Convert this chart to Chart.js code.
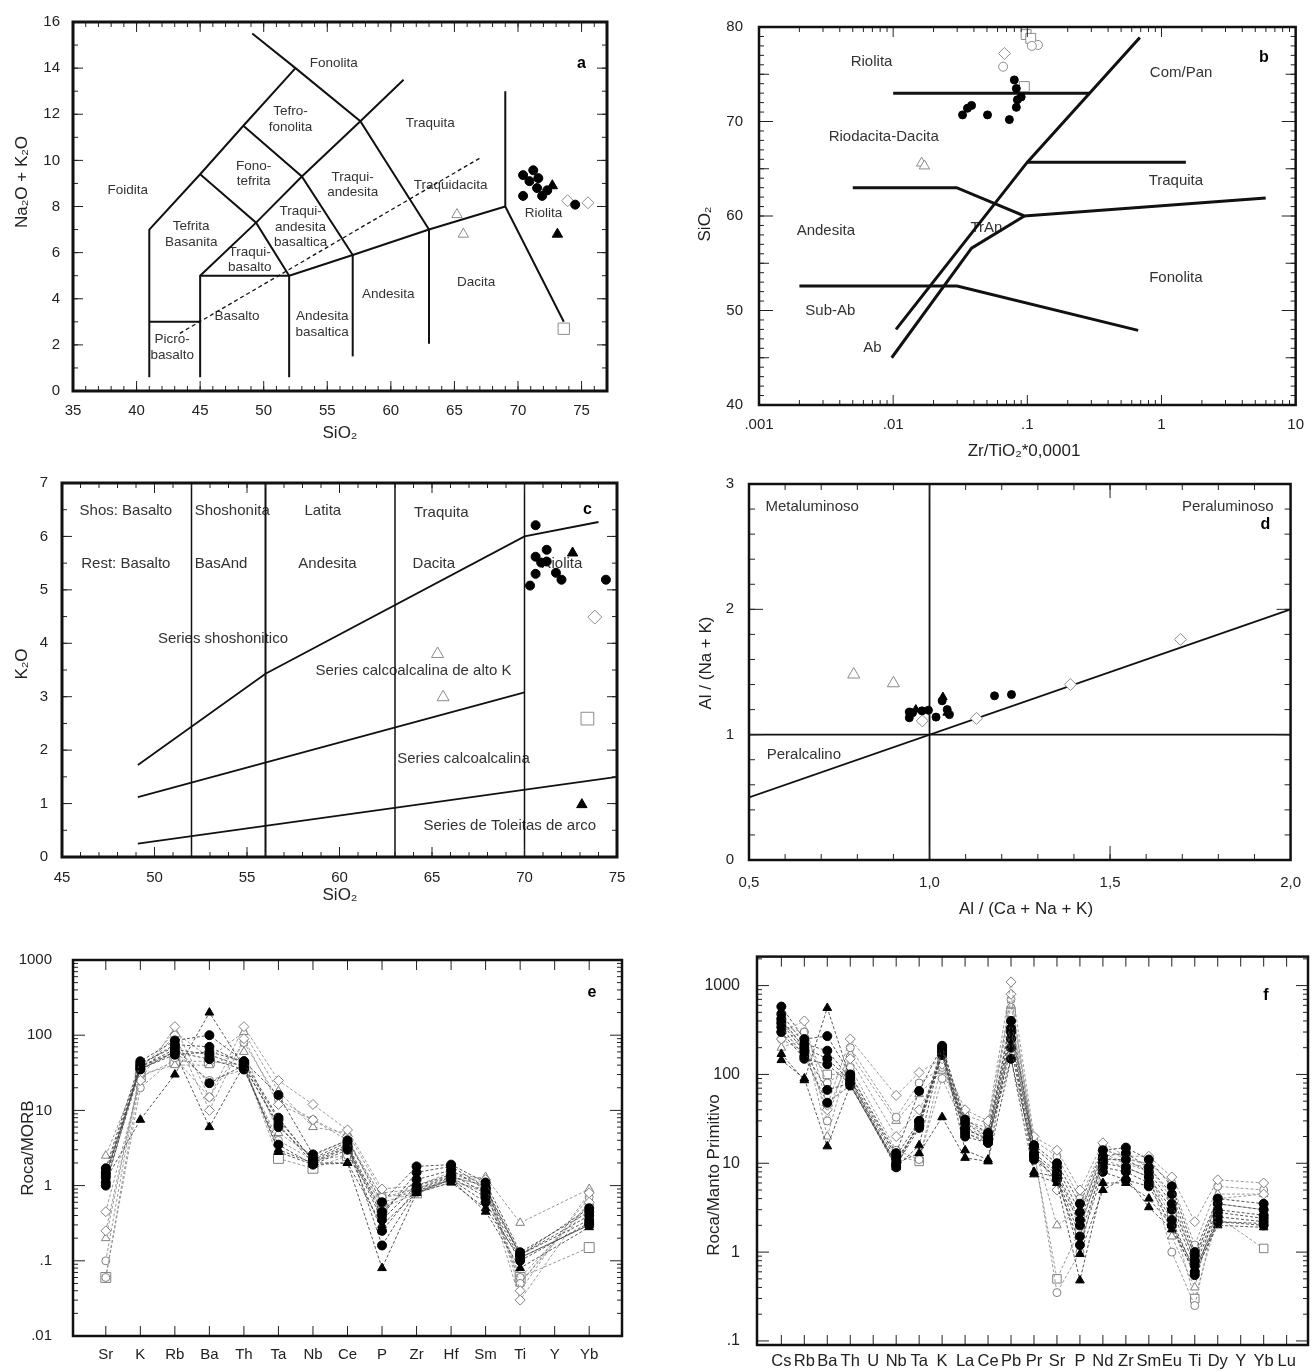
<!DOCTYPE html>
<html>
<head>
<meta charset="utf-8">
<script src="https://cdn.jsdelivr.net/npm/chart.js@4.4.0/dist/chart.umd.min.js"></script>
<style>
  body { margin: 0; background: #fff; width: 1315px; height: 1372px; position: relative; overflow: hidden; }
  .panel { position: absolute; }
</style>
</head>
<body>
<div class="panel" style="left:0;top:0;width:655px;height:445px"><canvas id="chart-a"></canvas></div>
<div class="panel" style="left:660px;top:0;width:655px;height:470px"><canvas id="chart-b"></canvas></div>
<div class="panel" style="left:0;top:460px;width:655px;height:450px"><canvas id="chart-c"></canvas></div>
<div class="panel" style="left:660px;top:460px;width:655px;height:470px"><canvas id="chart-d"></canvas></div>
<div class="panel" style="left:0;top:930px;width:655px;height:442px"><canvas id="chart-e"></canvas></div>
<div class="panel" style="left:660px;top:930px;width:655px;height:442px"><canvas id="chart-f"></canvas></div>
<script>
// ---------- a: TAS ----------
const aTicksX = [35, 40, 45, 50, 55, 60, 65, 70, 75];
const aTicksY = [0, 2, 4, 6, 8, 10, 12, 14, 16];
const aFields = [
  [[41, 0.6], [41, 7], [45, 9.4], [48.4, 11.5], [52.5, 14]],
  [[49.1, 15.5], [52.5, 14], [57.6, 11.7], [63, 7]],
  [[45, 9.4], [49.4, 7.3], [52, 5]],
  [[48.4, 11.5], [53, 9.3], [57, 5.9]],
  [[45, 0.6], [45, 5], [49.4, 7.3], [53, 9.3], [57.6, 11.7], [61, 13.5]],
  [[41, 3], [45, 3]],
  [[45, 5], [52, 5]],
  [[52, 0.6], [52, 5], [57, 5.9], [63, 7], [69, 8]],
  [[57, 1.5], [57, 5.9]],
  [[63, 2.05], [63, 7]],
  [[69, 13], [69, 8], [73.6, 3]]
];
const aAlkaline = [[43.4, 2.5], [67, 10.1]];
const aFilledCircles = [[70.4, 9.36], [71.2, 9.57], [71.6, 9.23], [70.4, 8.46], [71.5, 8.8], [71.9, 8.46], [74.5, 8.08], [70.9, 9.1], [72.3, 8.7]];
const aFilledTriangles = [[72.7, 8.9], [73.1, 6.8]];
const aOpenDiamonds = [[73.9, 8.25], [75.5, 8.16]];
const aOpenTriangles = [[65.2, 7.65], [65.7, 6.8]];
const aOpenSquares = [[73.6, 2.7]];
const aNames = [
  ['Fonolita', 55.5, 14.2], ['Tefro-\nfonolita', 52.1, 11.78], ['Fono-\ntefrita', 49.2, 9.42],
  ['Foidita', 39.3, 8.7], ['Tefrita\nBasanita', 44.3, 6.8], ['Traqui-\nbasalto', 48.9, 5.7],
  ['Traqui-\nandesita\nbasaltica', 52.9, 7.1], ['Traqui-\nandesita', 57.0, 8.95], ['Traquita', 63.1, 11.6],
  ['Traquidacita', 64.7, 8.9], ['Riolita', 72.0, 7.7], ['Basalto', 47.9, 3.25],
  ['Andesita\nbasaltica', 54.6, 2.9], ['Picro-\nbasalto', 42.8, 1.9], ['Andesita', 59.8, 4.2], ['Dacita', 66.7, 4.7]
];

// ---------- b: Zr/TiO2 vs SiO2 ----------
const bTicksX = [0.001, 0.01, 0.1, 1, 10];
const bLabelsX = ['.001', '.01', '.1', '1', '10'];
const bTicksY = [40, 50, 60, 70, 80];
const bFields = [
  [[0.01, 73], [0.29, 73]],
  [[0.0105, 48], [0.1, 65.7], [0.69, 78.9]],
  [[0.00975, 45], [0.0384, 56.6], [0.095, 60]],
  [[0.005, 63], [0.0297, 63], [0.095, 60], [5.98, 61.9]],
  [[0.1, 65.7], [1.52, 65.7]],
  [[0.002, 52.6], [0.03, 52.6], [0.67, 47.9]]
];
const bFilledCircles = [[0.0329, 70.7], [0.0358, 71.4], [0.0384, 71.7], [0.0505, 70.7], [0.0735, 70.2], [0.080, 74.4], [0.0828, 73.5], [0.0843, 72.3], [0.0828, 71.5], [0.090, 72.6]];
const bOpenDiamonds = [[0.0675, 77.2]];
const bOpenCircles = [[0.066, 75.8], [0.12, 78.1], [0.108, 78.0]];
const bOpenSquares = [[0.098, 79.2], [0.106, 78.8], [0.095, 73.7]];
const bOpenTriangles = [[0.0163, 65.6], [0.0171, 65.3]];
const bNames = [
  ['Riolita', 0.0069, 76.3], ['Riodacita-Dacita', 0.0085, 68.4], ['Com/Pan', 1.4, 75.1],
  ['Traquita', 1.28, 63.7], ['Andesita', 0.00315, 58.4], ['TrAn', 0.0496, 58.7],
  ['Fonolita', 1.28, 53.5], ['Sub-Ab', 0.0034, 50], ['Ab', 0.007, 46]
];

// ---------- c: K2O vs SiO2 ----------
const cTicksX = [45, 50, 55, 60, 65, 70, 75];
const cTicksY = [0, 1, 2, 3, 4, 5, 6, 7];
const cSeriesLines = [
  [[49.1, 1.72], [56, 3.43], [70, 6.0], [74, 6.27]],
  [[49.1, 1.12], [70, 3.08]],
  [[49.1, 0.25], [75, 1.5]]
];
const cDividers = [52, 56, 63, 70];
const cFilledCircles = [[70.6, 6.21], [70.6, 5.62], [71.2, 5.75], [70.9, 5.51], [70.6, 5.30], [70.3, 5.08], [71.7, 5.32], [72.0, 5.19], [74.4, 5.19], [71.2, 5.53]];
const cFilledTriangles = [[72.6, 5.69], [73.1, 0.98]];
const cOpenDiamonds = [[73.8, 4.49]];
const cOpenTriangles = [[65.3, 3.80], [65.6, 2.99]];
const cOpenSquares = [[73.4, 2.59]];
const cNames = [
  ['Shos: Basalto', 48.45, 6.48], ['Shoshonita', 54.2, 6.48], ['Latita', 59.1, 6.48], ['Traquita', 65.5, 6.44],
  ['Rest: Basalto', 48.45, 5.48], ['BasAnd', 53.6, 5.48], ['Andesita', 59.35, 5.48], ['Dacita', 65.1, 5.48],
  ['Riolita', 72.0, 5.48], ['Series shoshonitico', 53.7, 4.09], ['Series calcoalcalina de alto K', 64.0, 3.48],
  ['Series calcoalcalina', 66.7, 1.83], ['Series de Toleitas de arco', 69.2, 0.59]
];

// ---------- d: Shand ----------
const dTicksX = [0.5, 1.0, 1.5, 2.0];
const dLabelsX = ['0,5', '1,0', '1,5', '2,0'];
const dTicksY = [0, 1, 2, 3];
const dFields = [
  [[1, 0], [1, 3]],
  [[0.5, 1], [2, 1]],
  [[0.5, 0.5], [2, 2]]
];
const dFilledCircles = [[1.18, 1.31], [1.227, 1.32], [0.944, 1.135], [0.953, 1.175], [0.979, 1.19], [0.997, 1.195], [1.018, 1.14], [1.035, 1.27], [1.049, 1.20], [1.055, 1.16], [0.944, 1.18]];
const dFilledTriangles = [[0.962, 1.20], [1.049, 1.175], [1.037, 1.30]];
const dOpenDiamonds = [[1.695, 1.76], [1.39, 1.40], [1.13, 1.13], [0.98, 1.11]];
const dOpenTriangles = [[0.79, 1.48], [0.90, 1.41]];
const dNames = [['Metaluminoso', 0.675, 2.82], ['Peraluminoso', 1.826, 2.82], ['Peralcalino', 0.652, 0.835]];

// ---------- e: MORB normalised ----------
const eCats = ['Sr', 'K', 'Rb', 'Ba', 'Th', 'Ta', 'Nb', 'Ce', 'P', 'Zr', 'Hf', 'Sm', 'Ti', 'Y', 'Yb'];
const eTicksY = [0.01, 0.1, 1, 10, 100, 1000];
const eLabelsY = ['.01', '.1', '1', '10', '100', '1000'];
const eFilledCircles = [
  [1.7, 45, 85, 100, 45, 16, 2.6, 4.0, 0.6, 1.8, 1.9, 1.1, 0.13, null, 0.45],
  [1.5, 40, 75, 70, 42, 7.5, 2.2, 3.5, 0.45, 1.2, 1.6, 0.9, 0.12, null, 0.4],
  [1.3, 38, 65, 55, 38, 6.5, 2.0, 3.2, 0.35, 1.0, 1.4, 0.8, 0.12, null, 0.35],
  [1.1, 35, 60, 48, 35, 3.5, 1.9, 3.0, 0.25, 0.9, 1.3, 0.7, 0.11, null, 0.3],
  [1.0, 42, 70, 23, 40, 6.0, 2.3, 3.8, 0.16, 0.85, 1.2, 0.6, 0.10, null, 0.32],
  [1.4, 36, 55, 60, 45, 8, 2.1, 3.3, 0.4, 1.5, 1.8, 0.95, 0.12, null, 0.5]
];
const eFilledTriangles = [
  [1.2, 7.5, 30, 200, 38, 3.0, 2.0, 2.0, 0.08, 0.8, 1.2, 0.45, 0.08, null, 0.28],
  [1.3, 38, 60, 6, 40, 2.8, 1.9, 2.0, 0.3, 0.8, 1.1, 0.5, 0.11, null, 0.3]
];
const eOpenDiamonds = [
  [0.45, 25, 130, 15, 130, 25, 12, 5.5, 0.9, 1.0, 1.5, 1.2, 0.04, null, 0.8],
  [0.25, 30, 100, 10, 90, 12, 7.5, 4.5, 0.5, 1.0, 1.3, 1.0, 0.03, null, 0.6]
];
const eOpenCircles = [
  [0.06, 20, 50, 15, 80, 14, 7.5, 4.0, 0.7, 0.9, 1.4, 1.1, 0.05, null, 0.7],
  [0.1, 35, 60, 25, 35, 4, 2.2, 2.5, 0.6, 0.8, 1.3, 1.0, 0.06, null, 0.55]
];
const eOpenTriangles = [
  [2.5, 35, 110, 50, 110, 18, 6, 5.0, 0.8, 0.9, 1.2, 1.3, 0.32, null, 0.9],
  [0.2, 30, 40, 40, 60, 5, 2.5, 4.0, 0.7, 0.8, 1.1, 0.9, 0.05, null, 0.6]
];
const eOpenSquares = [
  [0.06, 28, 45, 45, 40, 2.3, 1.7, 2.5, 0.5, 0.8, 1.2, 0.8, 0.06, null, 0.15]
];

// ---------- f: primitive mantle normalised ----------
const fCats = ['Cs', 'Rb', 'Ba', 'Th', 'U', 'Nb', 'Ta', 'K', 'La', 'Ce', 'Pb', 'Pr', 'Sr', 'P', 'Nd', 'Zr', 'Sm', 'Eu', 'Ti', 'Dy', 'Y', 'Yb', 'Lu'];
const fTicksY = [0.1, 1, 10, 100, 1000];
const fLabelsY = ['.1', '1', '10', '100', '1000'];
const fFilledCircles = [
  [580, 250, 270, 100, null, 13, 65, 210, 31, 22, 400, 16, 10, 3.5, 14, 15, 11, 5.5, 1.0, 4.0, null, 3.5, null],
  [480, 220, 185, 90, null, 12, 30, 200, 28, 20, 330, 15, 9, 2.8, 12, 13, 9, 4.5, 0.9, 3.5, null, 3.0, null],
  [420, 200, 150, 85, null, 11, 26, 190, 25, 18, 300, 13, 8, 2.3, 11, 11, 8, 3.5, 0.8, 3.0, null, 2.6, null],
  [380, 180, 67, 80, null, 10, 28, 180, 22, 17, 250, 12, 7.5, 2.0, 10, 9, 7, 3.0, 0.7, 2.8, null, 2.4, null],
  [340, 160, 48, 75, null, 9.5, 25, 170, 20, 17, 200, 11, 7, 1.5, 9, 8, 6, 2.3, 0.6, 2.5, null, 2.2, null],
  [300, 150, 130, 78, null, 9, 30, 165, 24, 19, 150, 12, 6.5, 1.2, 8, 6.5, 5.5, 2.0, 0.55, 2.2, null, 2.0, null]
];
const fFilledTriangles = [
  [170, 86, 560, 90, null, 9, 15.9, 190, 14, 11, 280, 8, 7, 0.95, 5, 7, 3.2, 1.8, 0.6, 2.0, null, 1.9, null],
  [145, 90, 15.5, 75, null, 10, 13, 33, 11.5, 10.5, 150, 7.5, 6, 0.48, 6, 6, 4, 2.0, 0.65, 2.2, null, 2.1, null]
];
const fOpenDiamonds = [
  [300, 400, 45, 250, null, 58, 105, 150, 40, 30, 1100, 20, 14, 5, 17, 12, 12, 7, 2.2, 6.5, null, 6.0, null],
  [250, 180, 40, 150, null, 20, 40, 130, 28, 22, 800, 15, 5, 2.5, 14, 12, 9, 4, 0.8, 4.0, null, 4.5, null]
];
const fOpenCircles = [
  [250, 300, 30, 200, null, 33, 80, 120, 35, 28, 700, 18, 12, 4, 15, 11, 10, 6, 1.2, 5.5, null, 5.0, null],
  [350, 300, 80, 120, null, 14, 11, 90, 25, 20, 400, 14, 0.35, 1.0, 12, 10, 8, 1.0, 0.25, 3.5, null, 3.0, null]
];
const fOpenTriangles = [
  [200, 250, 20, 170, null, 30, 60, 110, 30, 25, 600, 16, 2, 3, 13, 10, 9, 1.5, 0.4, 4.5, null, 4.5, null]
];
const fOpenSquares = [
  [400, 200, 100, 100, null, 12, 10.5, 140, 22, 18, 500, 13, 0.5, 1.8, 11, 9, 7, 2.5, 0.3, 2.5, null, 1.1, null]
];

// ---------- helpers ----------
const FONT = '"Liberation Sans", Arial, sans-serif';
Chart.defaults.font.family = FONT;
Chart.defaults.color = '#222';

const range = (a, b, s) => { const r = []; for (let v = a; v <= b + 1e-9; v += s) r.push(+v.toFixed(6)); return r; };
const logMinor = (e0, e1) => { const r = []; for (let e = e0; e < e1; e++) for (let m = 2; m < 10; m++) r.push(m * Math.pow(10, e)); return r; };
const pts = arr => arr.map(([x, y]) => ({ x, y }));

// box round the plot with inward tick marks on all four sides
const frame = {
  id: 'frame',
  afterDatasetsDraw(chart, args, o) {
    if (!o || !o.x) return;
    const { ctx, chartArea: a } = chart;
    const xs = chart.scales.x, ys = chart.scales.y;
    ctx.save();
    ctx.strokeStyle = '#222';
    ctx.lineWidth = 1;
    ctx.beginPath();
    o.x.forEach(([vals, len]) => vals.forEach(v => {
      const p = xs.getPixelForValue(v);
      if (p < a.left + 1 || p > a.right - 1) return;
      ctx.moveTo(p, a.bottom); ctx.lineTo(p, a.bottom - len);
      ctx.moveTo(p, a.top); ctx.lineTo(p, a.top + len);
    }));
    o.y.forEach(([vals, len]) => vals.forEach(v => {
      const p = ys.getPixelForValue(v);
      if (p < a.top + 1 || p > a.bottom - 1) return;
      ctx.moveTo(a.left, p); ctx.lineTo(a.left + len, p);
      ctx.moveTo(a.right, p); ctx.lineTo(a.right - len, p);
    }));
    ctx.stroke();
    ctx.lineWidth = o.lw;
    ctx.strokeStyle = '#111';
    ctx.strokeRect(a.left, a.top, a.right - a.left, a.bottom - a.top);
    ctx.restore();
  }
};

// field names at data coordinates, plus the panel letter
const regions = {
  id: 'regions',
  beforeDatasetsDraw(chart, args, o) {
    if (!o || !o.items) return;
    const { ctx } = chart;
    const xs = chart.scales.x, ys = chart.scales.y;
    const size = o.size || 14;
    ctx.save();
    ctx.textAlign = 'center';
    ctx.textBaseline = 'middle';
    ctx.fillStyle = '#333';
    ctx.font = size + 'px ' + FONT;
    o.items.forEach(([t, x, y]) => {
      const lines = t.split('\n');
      const px = xs.getPixelForValue(x), py = ys.getPixelForValue(y);
      lines.forEach((l, i) => ctx.fillText(l, px, py + (i - (lines.length - 1) / 2) * (size + 2)));
    });
    if (o.letter) {
      ctx.fillStyle = '#000';
      ctx.font = 'bold 16px ' + FONT;
      ctx.fillText(o.letter[0], xs.getPixelForValue(o.letter[1]), ys.getPixelForValue(o.letter[2]));
    }
    ctx.restore();
  }
};

// axis titles (canvas pixels), drawn by hand so they can sit off-centre like the original
const titles = {
  id: 'titles',
  afterDraw(chart, args, o) {
    if (!o || !o.items) return;
    const ctx = chart.ctx;
    ctx.save();
    ctx.fillStyle = '#222';
    ctx.font = (o.size || 17) + 'px ' + FONT;
    ctx.textAlign = 'center';
    ctx.textBaseline = 'middle';
    o.items.forEach(([t, x, y, rot]) => {
      ctx.save();
      ctx.translate(x, y);
      if (rot) ctx.rotate(-Math.PI / 2);
      ctx.fillText(t, 0, 0);
      ctx.restore();
    });
    ctx.restore();
  }
};

function mkScale(o) {
  return {
    type: o.type || 'linear', min: o.min, max: o.max, offset: false,
    grid: { display: false, drawTicks: false }, border: { display: false },
    afterBuildTicks: s => { s.ticks = o.ticks.map(v => ({ value: v })); },
    afterFit: s => { if (s.isHorizontal()) s.height = o.size; else s.width = o.size; },
    ticks: {
      padding: o.pad, autoSkip: false, maxRotation: 0, minRotation: 0,
      font: { size: o.font || 15 }, color: '#222',
      callback: (v, i) => (o.labels ? o.labels[i] : String(o.ticks[i]))
    },
    title: { display: false }
  };
}

const lineSet = (p, w, dash) => ({
  data: pts(p), showLine: true, borderColor: '#111', borderWidth: w || 2,
  borderDash: dash || [], pointRadius: 0, order: 2
});
const markSet = (p, style, filled, r) => ({
  data: pts(p), showLine: false, pointStyle: style, pointRadius: r,
  pointHoverRadius: r, backgroundColor: filled ? '#000' : '#fff',
  borderColor: filled ? '#000' : '#8c8c8c', borderWidth: 1, order: 1
});
function spider(groups) {
  const out = [];
  groups.forEach(([rows, style, filled, r]) => rows.forEach(vals => out.push({
    data: vals.map((v, i) => ({ x: i, y: v })),
    showLine: true, spanGaps: true,
    borderColor: filled ? '#444' : '#8f8f8f', borderWidth: 0.9, borderDash: [3, 2],
    pointStyle: style, pointRadius: r, pointHoverRadius: r,
    pointBackgroundColor: filled ? '#000' : '#fff',
    pointBorderColor: filled ? '#000' : '#808080', pointBorderWidth: 1
  })));
  return out;
}

function makeChart(id, cfg) {
  return new Chart(document.getElementById(id), {
    type: 'scatter',
    data: { datasets: cfg.datasets },
    options: {
      responsive: true, maintainAspectRatio: false, animation: false,
      layout: { padding: cfg.pad },
      scales: { x: mkScale(cfg.x), y: mkScale(cfg.y) },
      plugins: {
        legend: { display: false }, tooltip: { enabled: false },
        frame: cfg.frame, regions: cfg.regions, titles: cfg.titles
      }
    },
    plugins: [frame, regions, titles]
  });
}

// ---------- panel a ----------
makeChart('chart-a', {
  pad: { top: 16, right: 48, left: 0, bottom: 0 },
  x: { min: 35, max: 77, ticks: aTicksX, size: 54, pad: 11 },
  y: { min: 0, max: 16, ticks: aTicksY, size: 73, pad: 13 },
  datasets: [
    markSet(aFilledCircles, 'circle', true, 4.5),
    markSet(aFilledTriangles, 'triangle', true, 6),
    markSet(aOpenDiamonds, 'rectRot', false, 6),
    markSet(aOpenTriangles, 'triangle', false, 6),
    markSet(aOpenSquares, 'rect', false, 8),
    lineSet(aAlkaline, 1.3, [4, 3]),
    ...aFields.map(f => lineSet(f, 2))
  ],
  frame: { lw: 3, x: [[aTicksX, 10], [range(35, 77, 1), 5]], y: [[aTicksY, 10], [range(0, 16, 1), 5]] },
  regions: { items: aNames, size: 13.5, letter: ['a', 75, 14.2] },
  titles: { items: [['SiO₂', 340, 433], ['Na₂O + K₂O', 22, 182, true]] }
});

// ---------- panel b ----------
makeChart('chart-b', {
  pad: { top: 27, right: 18, left: 0, bottom: 0 },
  x: { type: 'logarithmic', min: 0.001, max: 10, ticks: bTicksX, labels: bLabelsX, size: 65, pad: 11 },
  y: { min: 40, max: 80, ticks: bTicksY, size: 99, pad: 16 },
  datasets: [
    markSet(bFilledCircles, 'circle', true, 4),
    markSet(bOpenDiamonds, 'rectRot', false, 6),
    markSet(bOpenCircles, 'circle', false, 4.5),
    markSet(bOpenSquares, 'rect', false, 7),
    markSet(bOpenTriangles, 'triangle', false, 6),
    ...bFields.map(f => lineSet(f, 3))
  ],
  frame: { lw: 2.5, x: [[bTicksX, 10], [logMinor(-3, 1), 5]], y: [[bTicksY, 14], [range(45, 75, 10), 10], [range(40, 80, 1), 5]] },
  regions: { items: bNames, size: 15, letter: ['b', 5.8, 76.8] },
  titles: { items: [['Zr/TiO₂*0,0001', 364, 451], ['SiO₂', 45, 224, true]] }
});

// ---------- panel c ----------
makeChart('chart-c', {
  pad: { top: 15, right: 38, left: 0, bottom: 0 },
  x: { min: 45, max: 75, ticks: cTicksX, size: 53, pad: 12 },
  y: { min: 0, max: 7, ticks: cTicksY, size: 62, pad: 14 },
  datasets: [
    markSet(cFilledCircles, 'circle', true, 4.5),
    markSet(cFilledTriangles, 'triangle', true, 6),
    markSet(cOpenDiamonds, 'rectRot', false, 7),
    markSet(cOpenTriangles, 'triangle', false, 7),
    markSet(cOpenSquares, 'rect', false, 9),
    ...cSeriesLines.map(f => lineSet(f, 1.8)),
    ...cDividers.map(x => lineSet([[x, 0], [x, 7]], x === 56 ? 2 : 1.5))
  ],
  frame: { lw: 3, x: [[cTicksX, 10], [range(45, 75, 1), 5]], y: [[cTicksY, 10], [range(0, 7, 0.5), 5]] },
  regions: { items: cNames, size: 15, letter: ['c', 73.4, 6.5] },
  titles: { items: [['SiO₂', 340, 435], ['K₂O', 22, 204, true]] }
});

// ---------- panel d ----------
makeChart('chart-d', {
  pad: { top: 17, right: 15, left: 0, bottom: 0 },
  x: { min: 0.5, max: 2.0, ticks: dTicksX, labels: dLabelsX, size: 70, pad: 14 },
  y: { min: 0, max: 3, ticks: dTicksY, size: 89, pad: 15 },
  datasets: [
    markSet(dFilledCircles, 'circle', true, 4),
    markSet(dFilledTriangles, 'triangle', true, 5),
    markSet(dOpenDiamonds, 'rectRot', false, 6),
    markSet(dOpenTriangles, 'triangle', false, 7),
    ...dFields.map(f => lineSet(f, 1.8))
  ],
  frame: { lw: 2.5, x: [[dTicksX, 14], [range(0.5, 2, 0.1), 6]], y: [[dTicksY, 14], [range(0, 3, 0.2), 6]] },
  regions: { items: dNames, size: 15, letter: ['d', 1.93, 2.68] },
  titles: { items: [['Al / (Ca + Na + K)', 366, 449], ['Al / (Na + K)', 46, 203, true]] }
});

// ---------- panel e ----------
makeChart('chart-e', {
  pad: { top: 25, right: 33, left: 0, bottom: 0 },
  x: { min: -0.95, max: 14.95, ticks: eCats.map((c, i) => i), labels: eCats, size: 36, pad: 10 },
  y: { type: 'logarithmic', min: 0.01, max: 1000, ticks: eTicksY, labels: eLabelsY, size: 73, pad: 21 },
  datasets: spider([
    [eFilledCircles, 'circle', true, 4.5],
    [eFilledTriangles, 'triangle', true, 5],
    [eOpenDiamonds, 'rectRot', false, 5],
    [eOpenCircles, 'circle', false, 4],
    [eOpenTriangles, 'triangle', false, 5],
    [eOpenSquares, 'rect', false, 7]
  ]),
  frame: { lw: 2.5, x: [[eCats.map((c, i) => i), 10]], y: [[eTicksY, 12], [logMinor(-2, 3), 5]] },
  regions: { items: [], letter: ['e', 14.08, 366] },
  titles: { items: [['Roca/MORB', 28, 218, true]] }
});

// ---------- panel f ----------
makeChart('chart-f', {
  pad: { top: 25, right: 5, left: 0, bottom: 0 },
  x: { min: -1.06, max: 22.93, ticks: fCats.map((c, i) => i), labels: fCats, size: 27, pad: 7, font: 16.5 },
  y: { type: 'logarithmic', min: 0.09, max: 2120, ticks: fTicksY, labels: fLabelsY, size: 97, pad: 17, font: 16 },
  datasets: spider([
    [fFilledCircles, 'circle', true, 4.5],
    [fFilledTriangles, 'triangle', true, 5],
    [fOpenDiamonds, 'rectRot', false, 5],
    [fOpenCircles, 'circle', false, 4],
    [fOpenTriangles, 'triangle', false, 5],
    [fOpenSquares, 'rect', false, 6]
  ]),
  frame: { lw: 2.5, x: [[fCats.map((c, i) => i), 10]], y: [[fTicksY, 12], [logMinor(-2, 4).filter(v => v < 2120), 5]] },
  regions: { items: [], letter: ['f', 21.1, 776] },
  titles: { items: [['Roca/Manto Primitivo', 54, 245, true]] }
});
</script>
</body>
</html>
